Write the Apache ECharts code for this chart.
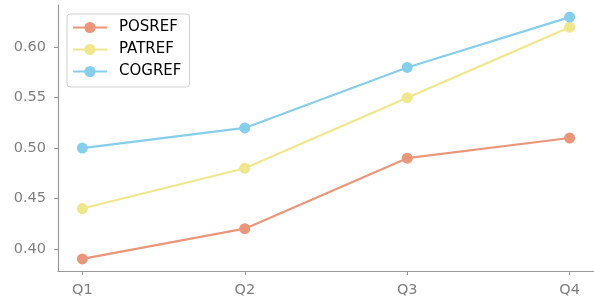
<!DOCTYPE html>
<html>
<head>
<meta charset="utf-8">
<script src="https://cdn.jsdelivr.net/npm/echarts@6/dist/echarts.min.js"></script>
<style>
  html, body { margin: 0; padding: 0; background: #fff; }
  #chart { width: 594px; height: 299px; }
</style>
</head>
<body>
<div id="chart"></div>
<script>
// quarters on the x axis
const categories = ['Q1', 'Q2', 'Q3', 'Q4']
const posref = [0.39, 0.42, 0.49, 0.51]
const patref = [0.44, 0.48, 0.55, 0.62]
const cogref = [0.50, 0.52, 0.58, 0.63]
const yTicks = [0.40, 0.45, 0.50, 0.55, 0.60]

const chart = echarts.init(document.getElementById('chart'))

const font = 'DejaVu Sans'
const axisGray = '#999999'
const labelGray = '#7f7f7f'

function makeSeries (name, values, color) {
  return {
    name: name,
    type: 'line',
    data: values.map((v, i) => [i, v]),
    symbol: 'circle',
    symbolSize: 11,
    lineStyle: { width: 2.2, color: color },
    itemStyle: { color: color },
    emphasis: { disabled: true }
  }
}

const option = {
  animation: false,
  grid: { left: 58, right: 0, top: 5, bottom: 28, containLabel: false },
  legend: {
    orient: 'vertical',
    left: 67,
    top: 14,
    padding: [6, 8, 8, 5],
    itemWidth: 34,
    itemHeight: 14,
    itemGap: 7,
    borderColor: '#d0d0d0',
    borderWidth: 1,
    borderRadius: 3,
    backgroundColor: 'rgba(255,255,255,0.8)',
    textStyle: { fontFamily: font, fontSize: 15, color: '#000', padding: [0, 0, 0, 7] },
    data: ['POSREF', 'PATREF', 'COGREF']
  },
  xAxis: {
    type: 'value',
    min: -0.15,
    max: 3.15,
    splitLine: { show: false },
    axisLine: { onZero: false, lineStyle: { color: axisGray, width: 1.2 } },
    axisTick: { show: true, length: 4, customValues: [0, 1, 2, 3], lineStyle: { color: axisGray } },
    axisLabel: {
      customValues: [0, 1, 2, 3],
      margin: 12,
      color: labelGray,
      fontFamily: font,
      fontSize: 14.5,
      formatter: (v) => categories[Math.round(v)]
    }
  },
  yAxis: {
    type: 'value',
    min: 0.378,
    max: 0.642,
    splitLine: { show: false },
    axisLine: { show: true, onZero: false, lineStyle: { color: axisGray, width: 1.2 } },
    axisTick: { show: true, length: 4, customValues: yTicks, lineStyle: { color: axisGray } },
    axisLabel: {
      customValues: yTicks,
      margin: 12,
      color: labelGray,
      fontFamily: font,
      fontSize: 14.5,
      formatter: (v) => v.toFixed(2)
    }
  },
  series: [
    makeSeries('POSREF', posref, '#e9967a'),
    makeSeries('PATREF', patref, '#f0e68c'),
    makeSeries('COGREF', cogref, '#87ceeb')
  ]
}

chart.setOption(option)
</script>
</body>
</html>
